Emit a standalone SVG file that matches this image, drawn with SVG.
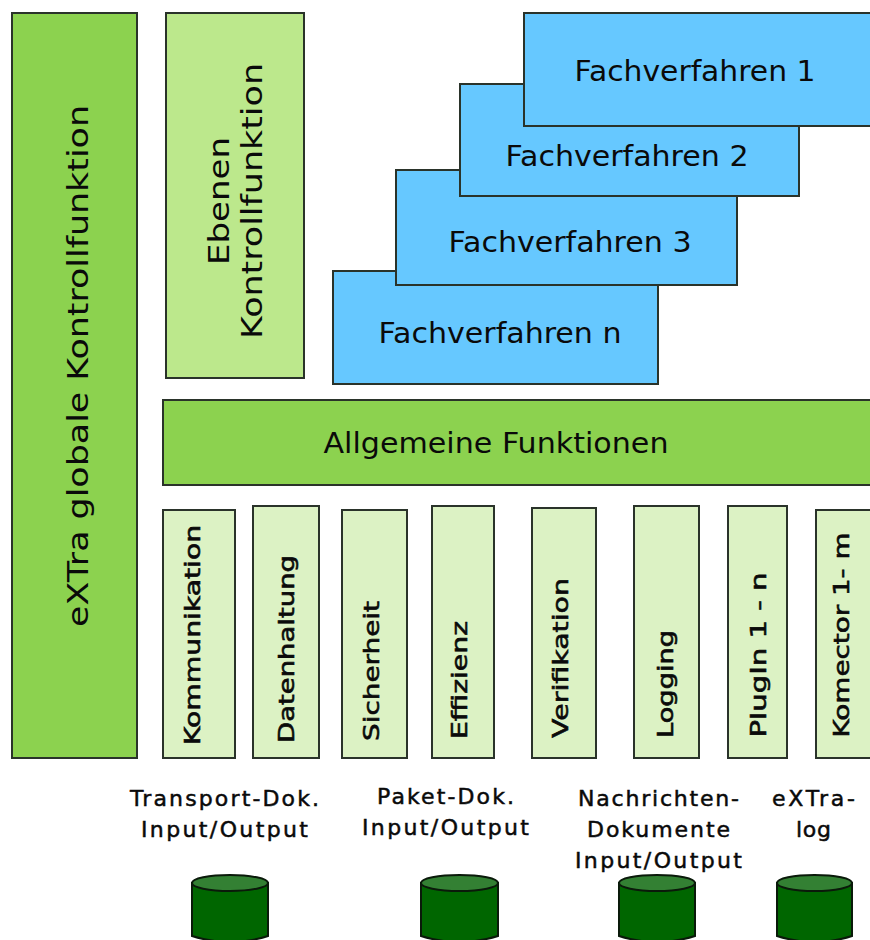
<svg xmlns="http://www.w3.org/2000/svg" width="870" height="940" viewBox="0 0 870 940">
<style>
rect{stroke:#2a332a;stroke-width:2}
text{font-family:"DejaVu Sans",Verdana,sans-serif;fill:#0a0a0a;text-anchor:middle}
.big{font-size:28px}
.mid{font-size:21px;stroke:#0a0a0a;stroke-width:.6}
.lab{font-size:22px;letter-spacing:1px;stroke:#0a0a0a;stroke-width:.5}
.g1{fill:#8cd24f}.g2{fill:#bce88c}.g3{fill:#dcf2c4}.b{fill:#66c8ff}
.cyl{fill:#006600;stroke:#0a1a0a;stroke-width:2}
.top{fill:#338033;stroke:#0a1a0a;stroke-width:2}
</style>
<rect fill="#fff" x="-2" y="-2" width="874" height="944" style="stroke:none"/>
<g id="global"><rect class="g1" x="12" y="13" width="125" height="745"/><text class="big" transform="translate(88,366) rotate(-90)" textLength="522" lengthAdjust="spacingAndGlyphs">eXTra globale Kontrollfunktion</text></g>
<g id="ebenen"><rect class="g2" x="166" y="13" width="138" height="365"/><text class="big" transform="translate(229,201) rotate(-90)" textLength="128" lengthAdjust="spacingAndGlyphs">Ebenen</text><text class="big" transform="translate(262,201) rotate(-90)" textLength="276" lengthAdjust="spacingAndGlyphs">Kontrollfunktion</text></g>
<g id="fn"><rect class="b" x="333" y="271" width="325" height="113"/><text class="big" x="500" y="343" textLength="243" lengthAdjust="spacingAndGlyphs">Fachverfahren n</text></g>
<g id="f3"><rect class="b" x="396" y="170" width="341" height="115"/><text class="big" x="570" y="252" textLength="243" lengthAdjust="spacingAndGlyphs">Fachverfahren 3</text></g>
<g id="f2"><rect class="b" x="460" y="84" width="339" height="112"/><text class="big" x="627" y="166" textLength="243" lengthAdjust="spacingAndGlyphs">Fachverfahren 2</text></g>
<g id="f1"><rect class="b" x="524" y="13" width="348" height="113"/><text class="big" x="695" y="81" textLength="241" lengthAdjust="spacingAndGlyphs">Fachverfahren 1</text></g>
<g id="allgemein"><rect class="g1" x="163" y="400" width="709" height="85"/><text class="big" x="496" y="453" textLength="345" lengthAdjust="spacingAndGlyphs">Allgemeine Funktionen</text></g>
<g id="kommunikation"><rect class="g3" x="163" y="510" width="72" height="248"/><text class="mid" transform="translate(200,635) rotate(-90)" textLength="220" lengthAdjust="spacingAndGlyphs">Kommunikation</text></g>
<g id="datenhaltung"><rect class="g3" x="253" y="506" width="66" height="252"/><text class="mid" transform="translate(294,649) rotate(-90)" textLength="188" lengthAdjust="spacingAndGlyphs">Datenhaltung</text></g>
<g id="sicherheit"><rect class="g3" x="342" y="510" width="65" height="248"/><text class="mid" transform="translate(379,671) rotate(-90)" textLength="140" lengthAdjust="spacingAndGlyphs">Sicherheit</text></g>
<g id="effizienz"><rect class="g3" x="432" y="506" width="62" height="252"/><text class="mid" transform="translate(467,680) rotate(-90)" textLength="118" lengthAdjust="spacingAndGlyphs">Effizienz</text></g>
<g id="verifikation"><rect class="g3" x="532" y="508" width="64" height="250"/><text class="mid" transform="translate(568,658) rotate(-90)" textLength="160" lengthAdjust="spacingAndGlyphs">Verifikation</text></g>
<g id="logging"><rect class="g3" x="634" y="506" width="65" height="252"/><text class="mid" transform="translate(673,684) rotate(-90)" textLength="108" lengthAdjust="spacingAndGlyphs">Logging</text></g>
<g id="plugin"><rect class="g3" x="728" y="506" width="59" height="252"/><text class="mid" transform="translate(766,655) rotate(-90)" textLength="165" lengthAdjust="spacingAndGlyphs">PlugIn 1 - n</text></g>
<g id="komector"><rect class="g3" x="816" y="510" width="56" height="248"/><text class="mid" transform="translate(849,635) rotate(-90)" textLength="205" lengthAdjust="spacingAndGlyphs">Komector 1- m</text></g>
<g id="transport"><text class="lab" x="225" y="806" textLength="190">Transport-Dok.</text><text class="lab" x="225" y="837" textLength="168">Input/Output</text>
<path class="cyl" d="M192 883V936Q230 948 268 936V883Z"/><ellipse class="top" cx="230" cy="883" rx="38" ry="8"/></g>
<g id="paket"><text class="lab" x="446" y="804" textLength="138">Paket-Dok.</text><text class="lab" x="446" y="835" textLength="168">Input/Output</text>
<path class="cyl" d="M421 883V936Q459 948 498 936V883Z"/><ellipse class="top" cx="459.500" cy="883" rx="38.500" ry="8"/></g>
<g id="nachrichten"><text class="lab" x="659" y="806" textLength="162">Nachrichten-</text><text class="lab" x="659" y="837" textLength="144">Dokumente</text><text class="lab" x="659" y="868" textLength="168">Input/Output</text>
<path class="cyl" d="M619 883V936Q657 948 695 936V883Z"/><ellipse class="top" cx="657" cy="883" rx="38" ry="8"/></g>
<g id="extralog"><text class="lab" x="814" y="806" textLength="84">eXTra-</text><text class="lab" x="814" y="837" textLength="36">log</text>
<path class="cyl" d="M777 883V936Q815 948 852 936V883Z"/><ellipse class="top" cx="814.500" cy="883" rx="37.500" ry="8"/></g>
<g id="connectors"></g>
</svg>
